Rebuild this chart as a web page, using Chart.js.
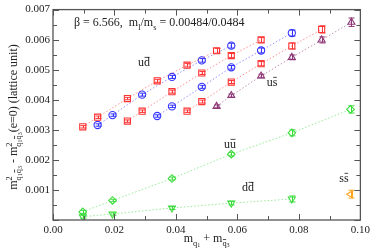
<!DOCTYPE html>
<html>
<head>
<meta charset="utf-8">
<script src="https://cdn.jsdelivr.net/npm/chart.js@4.4.0/dist/chart.umd.min.js"></script>
<style>
  html, body { margin: 0; padding: 0; background: #fff; }
  #wrap { width: 374px; height: 251px; }
</style>
</head>
<body>
<div id="wrap"><canvas id="grafico"></canvas></div>
<script>
// valores (m_q1 + m_q3 , diferença de massa ao quadrado)
const ud1X = [0.00968, 0.01452, 0.0242, 0.0339, 0.0436, 0.0532];
const ud1Y = [0.00310, 0.00342, 0.00404, 0.00463, 0.00515, 0.00563];
const ud1Err = [0.00004, 0.00004, 0.00004, 0.00005, 0.00006, 0.00008];

const ud2X = [0.01452, 0.01936, 0.0290, 0.0387, 0.0484, 0.0580];
const ud2Y = [0.00316, 0.00349, 0.00417, 0.00476, 0.00531, 0.00580];
const ud2Err = [0.00004, 0.00004, 0.00005, 0.00005, 0.00006, 0.00008];

const ud3X = [0.0242, 0.0290, 0.0387, 0.0484, 0.0580, 0.0677];
const ud3Y = [0.00329, 0.00362, 0.00427, 0.00489, 0.00547, 0.00599];
const ud3Err = [0.00004, 0.00004, 0.00005, 0.00005, 0.00007, 0.00008];

const ud4X = [0.0339, 0.0387, 0.0484, 0.0580, 0.0677, 0.0777];
const ud4Y = [0.00346, 0.00378, 0.00443, 0.00508, 0.00564, 0.00622];
const ud4Err = [0.00004, 0.00004, 0.00005, 0.00006, 0.00008, 0.00010];

const ud5X = [0.0436, 0.0484, 0.0580, 0.0677, 0.0777, 0.0874];
const ud5Y = [0.00362, 0.00394, 0.00459, 0.00520, 0.00579, 0.00634];
const ud5Err = [0.00004, 0.00005, 0.00005, 0.00007, 0.00010, 0.00012];

const usX = [0.0532, 0.0580, 0.0677, 0.0777, 0.0874, 0.0971];
const usY = [0.00378, 0.00414, 0.00479, 0.00541, 0.00599, 0.00658];
const usErr = [0.00005, 0.00005, 0.00006, 0.00008, 0.00010, 0.00014];

const uuX = [0.00968, 0.01936, 0.0387, 0.0580, 0.0777, 0.0968];
const uuY = [0.00027, 0.00065, 0.00138, 0.00219, 0.00290, 0.00368];
const uuErr = [0.00005, 0.00004, 0.00005, 0.00006, 0.00010, 0.00012];

const ddX = [0.00968, 0.01936, 0.0387, 0.0580, 0.0777];
const ddY = [0.00011, 0.00020, 0.00040, 0.00056, 0.00070];
const ddErr = [0.00005, 0.00004, 0.00005, 0.00006, 0.00010];

const ssX = [0.0968];
const ssY = [0.00086];
const ssErr = [0.00013];

const xTicks = [0, 0.02, 0.04, 0.06, 0.08, 0.10];
const yTicks = [0.001, 0.002, 0.003, 0.004, 0.005, 0.006, 0.007];

const vermelho = '#ff3434';
const azul = '#3333ff';
const roxo = '#8e3676';
const verde = '#3ddc3d';
const laranja = '#ffa520';
const fonte = "'Liberation Serif', 'DejaVu Serif', serif";

function serie(xs, ys, errs, cor, estilo, raio, rot, linha) {
    return {
        data: xs.map((x, i) => ({ x: x, y: ys[i] })),
        errs: errs,
        showLine: linha,
        borderColor: cor + '88',
        borderWidth: 1,
        borderDash: [1.5, 2],
        pointStyle: estilo,
        pointRadius: raio,
        pointRotation: rot,
        pointBorderColor: cor,
        pointBackgroundColor: 'rgba(0,0,0,0)',
        pointBorderWidth: 1.1,
        errColor: cor
    };
}

// desenha texto com subscritos / barras
function textoRico(ctx, runs, x, y, base, desenhar) {
    let cx = x;
    runs.forEach(r => {
        const s = (r.s || 1) * base;
        ctx.font = s + 'px ' + fonte;
        const w = ctx.measureText(r.t).width;
        const dy = (r.dy || 0) * base;
        if (desenhar) {
            ctx.fillText(r.t, cx, y + dy);
            if (r.bar) {
                ctx.beginPath();
                ctx.lineWidth = 0.8;
                ctx.moveTo(cx + 0.5, y + dy - s * 0.72);
                ctx.lineTo(cx + w - 0.5, y + dy - s * 0.72);
                ctx.stroke();
            }
        }
        if (!r.hold) cx += w;
    });
    return cx - x;
}

function rotulo(ctx, runs, cx, yb, base) {
    const w = textoRico(ctx, runs, 0, 0, base, false);
    textoRico(ctx, runs, cx - w / 2, yb, base, true);
}

const massaSub = [
    { t: '2', s: 0.7, dy: -0.42, hold: true },
    { t: 'q', s: 0.7, dy: 0.3 },
    { t: '1', s: 0.5, dy: 0.45 },
    { t: 'q', s: 0.7, dy: 0.3, bar: true },
    { t: '3', s: 0.5, dy: 0.45 }
];

const pluginExtras = {
    id: 'extras',
    afterDatasetsDraw(chart) {
        const ctx = chart.ctx;
        const xs = chart.scales.x, ys = chart.scales.y;
        ctx.save();
        chart.data.datasets.forEach(ds => {
            ctx.strokeStyle = ds.errColor;
            ctx.lineWidth = 1;
            ds.data.forEach((p, i) => {
                const px = Math.round(xs.getPixelForValue(p.x)) + 0.5;
                const y1 = ys.getPixelForValue(p.y + ds.errs[i]);
                const y2 = ys.getPixelForValue(p.y - ds.errs[i]);
                ctx.beginPath();
                ctx.moveTo(px, y1); ctx.lineTo(px, y2);
                ctx.moveTo(px - 3, y1); ctx.lineTo(px + 3, y1);
                ctx.moveTo(px - 3, y2); ctx.lineTo(px + 3, y2);
                ctx.stroke();
            });
        });
        ctx.restore();
    },
    afterDraw(chart) {
        const ctx = chart.ctx;
        const a = chart.chartArea;
        const xs = chart.scales.x, ys = chart.scales.y;
        ctx.save();
        ctx.strokeStyle = '#555';
        ctx.lineWidth = 1.3;
        ctx.strokeRect(a.left, a.top, a.right - a.left, a.bottom - a.top);
        ctx.lineWidth = 1;
        ctx.beginPath();
        for (let i = 0; i <= 10; i++) {
            const px = Math.round(xs.getPixelForValue(i * 0.01)) + 0.5;
            const L = i % 2 === 0 ? 6 : 4;
            ctx.moveTo(px, a.bottom); ctx.lineTo(px, a.bottom - L);
            ctx.moveTo(px, a.top); ctx.lineTo(px, a.top + L);
        }
        for (let i = 0; i <= 14; i++) {
            const py = Math.round(ys.getPixelForValue(i * 0.0005)) + 0.5;
            const L = i % 2 === 0 ? 6 : 4;
            ctx.moveTo(a.left, py); ctx.lineTo(a.left + L, py);
            ctx.moveTo(a.right, py); ctx.lineTo(a.right - L, py);
        }
        ctx.stroke();

        ctx.fillStyle = '#222';
        ctx.strokeStyle = '#222';
        ctx.textBaseline = 'alphabetic';
        ctx.textAlign = 'left';

        // texto do topo
        textoRico(ctx, [
            { t: '\u03b2 = 6.566,  m' },
            { t: 'l', s: 0.7, dy: 0.3 },
            { t: '/m' },
            { t: 's', s: 0.7, dy: 0.3 },
            { t: ' = 0.00484/0.0484' }
        ], 74, 26, 12, true);

        // rótulos das séries
        rotulo(ctx, [{ t: 'u' }, { t: 'd', bar: true }], 144, 66, 12);
        rotulo(ctx, [{ t: 'u' }, { t: 's', bar: true }], 272, 86, 12);
        rotulo(ctx, [{ t: 'u' }, { t: 'u', bar: true }], 230, 148, 12);
        rotulo(ctx, [{ t: 'd' }, { t: 'd', bar: true }], 248, 191, 12);
        rotulo(ctx, [{ t: 's' }, { t: 's', bar: true }], 344, 182, 12);

        // título do eixo x
        rotulo(ctx, [
            { t: 'm' },
            { t: 'q', s: 0.7, dy: 0.3 },
            { t: '1', s: 0.5, dy: 0.45 },
            { t: ' + m' },
            { t: 'q', s: 0.7, dy: 0.3, bar: true },
            { t: '3', s: 0.5, dy: 0.45 }
        ], (a.left + a.right) / 2, 242, 12);

        // título do eixo y
        const runsY = [{ t: 'm' }].concat(massaSub, [{ t: ' - m' }], massaSub, [{ t: '(e=0) (lattice unit)' }]);
        const w = textoRico(ctx, runsY, 0, 0, 12, false);
        ctx.translate(17, 117 + w / 2);
        ctx.rotate(-Math.PI / 2);
        textoRico(ctx, runsY, 0, 0, 12, true);
        ctx.restore();
    }
};

const ctxGrafico = document.getElementById('grafico').getContext('2d');

new Chart(ctxGrafico, {
    type: 'scatter',
    data: {
        datasets: [
            serie(ud1X, ud1Y, ud1Err, vermelho, 'rect', 4.3, 0, true),
            serie(ud2X, ud2Y, ud2Err, azul, 'circle', 3.6, 0, true),
            serie(ud3X, ud3Y, ud3Err, vermelho, 'rect', 4.3, 0, true),
            serie(ud4X, ud4Y, ud4Err, azul, 'circle', 3.6, 0, true),
            serie(ud5X, ud5Y, ud5Err, vermelho, 'rect', 4.3, 0, true),
            serie(usX, usY, usErr, roxo, 'triangle', 4, 0, true),
            serie(uuX, uuY, uuErr, verde, 'rectRot', 3.8, 0, true),
            serie(ddX, ddY, ddErr, verde, 'triangle', 4, 180, true),
            serie(ssX, ssY, ssErr, laranja, 'triangle', 4, 270, false)
        ]
    },
    options: {
        responsive: true,
        maintainAspectRatio: false,
        animation: false,
        layout: { padding: { left: 0, right: 11, top: 5, bottom: 0 } },
        plugins: { legend: { display: false }, tooltip: { enabled: false } },
        scales: {
            x: {
                type: 'linear',
                min: 0,
                max: 0.1,
                afterFit: s => { s.height = 31; },
                afterBuildTicks: s => { s.ticks = xTicks.map(v => ({ value: v })); },
                grid: { display: false, drawTicks: false },
                border: { display: false },
                ticks: {
                    padding: 4,
                    color: '#222',
                    font: { family: fonte, size: 11 },
                    callback: v => v.toFixed(2)
                }
            },
            y: {
                type: 'linear',
                min: 0,
                max: 0.007,
                afterFit: s => { s.width = 53; },
                afterBuildTicks: s => { s.ticks = yTicks.map(v => ({ value: v })); },
                grid: { display: false, drawTicks: false },
                border: { display: false },
                ticks: {
                    padding: 3,
                    color: '#222',
                    font: { family: fonte, size: 11 },
                    callback: v => v.toFixed(3)
                }
            }
        }
    },
    plugins: [pluginExtras]
});
</script>
</body>
</html>
